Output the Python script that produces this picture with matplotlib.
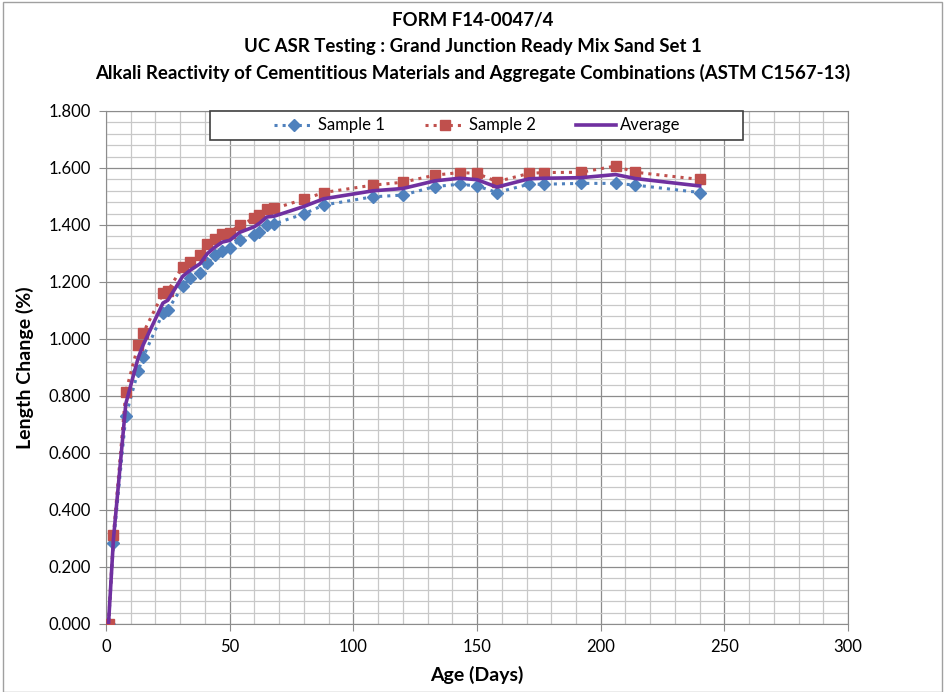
import matplotlib
matplotlib.use("Agg")
import matplotlib.pyplot as plt
from matplotlib.patches import Rectangle
from matplotlib.ticker import MultipleLocator, FormatStrFormatter
import numpy as np

# data
days = [1, 3, 8, 13, 15, 23, 25, 31, 34, 38, 41, 44, 47, 50, 54, 60, 62, 65, 68,
        80, 88, 108, 120, 133, 143, 150, 158, 171, 177, 192, 206, 214, 240]
sample1 = [0.000, 0.284, 0.730, 0.889, 0.936, 1.091, 1.102, 1.186, 1.213, 1.233, 1.266,
           1.293, 1.309, 1.319, 1.347, 1.365, 1.377, 1.400, 1.404, 1.439, 1.470, 1.499,
           1.505, 1.535, 1.543, 1.537, 1.514, 1.543, 1.543, 1.546, 1.546, 1.540, 1.514]
sample2 = [0.000, 0.312, 0.815, 0.979, 1.021, 1.160, 1.169, 1.254, 1.269, 1.295, 1.333,
           1.350, 1.370, 1.373, 1.400, 1.423, 1.435, 1.455, 1.458, 1.490, 1.514, 1.540,
           1.550, 1.575, 1.584, 1.581, 1.552, 1.581, 1.584, 1.585, 1.607, 1.585, 1.560]
average = [0.000, 0.298, 0.773, 0.934, 0.979, 1.126, 1.136, 1.220, 1.241, 1.264, 1.300,
           1.322, 1.340, 1.346, 1.374, 1.394, 1.406, 1.428, 1.431, 1.465, 1.492, 1.520,
           1.528, 1.555, 1.564, 1.559, 1.533, 1.562, 1.564, 1.566, 1.577, 1.563, 1.537]

titles = ["FORM F14-0047/4",
          "UC ASR Testing : Grand Junction Ready Mix Sand Set 1",
          "Alkali Reactivity of Cementitious Materials and Aggregate Combinations (ASTM C1567-13)"]

plt.rcParams['font.family'] = ['Lato', 'DejaVu Sans']

fig = plt.figure(figsize=(9.45, 6.92), dpi=100)
ax = fig.add_axes([0.1122, 0.0983, 0.7852, 0.7413])

# outer chart border
fig.patches.append(Rectangle((0.003, 0.0), 0.994, 0.997, transform=fig.transFigure,
                             fill=False, edgecolor='#a0a0a0', linewidth=1))

ax.plot(days, sample1, linestyle=':', color='#4F81BD', linewidth=2.2,
        marker='D', markersize=6.5, label='Sample 1', zorder=3)
ax.plot(days, sample2, linestyle=':', color='#C0504D', linewidth=2.2,
        marker='s', markersize=7, label='Sample 2', zorder=3)
ax.plot(days, average, linestyle='-', color='#7030A0', linewidth=2.6,
        label='Average', zorder=4)

ax.set_xlim(0, 300)
ax.set_ylim(0, 1.8)
ax.xaxis.set_major_locator(MultipleLocator(50))
ax.xaxis.set_minor_locator(MultipleLocator(10))
ax.yaxis.set_major_locator(MultipleLocator(0.2))
ax.yaxis.set_minor_locator(MultipleLocator(0.04))
ax.yaxis.set_major_formatter(FormatStrFormatter('%.3f'))
ax.grid(which='major', color='#8c8c8c', linewidth=0.9)
ax.grid(which='minor', color='#c8c8c8', linewidth=0.9)
ax.set_axisbelow(True)
ax.tick_params(which='major', direction='out', length=5, color='#8c8c8c',
               labelsize=12, pad=6)
ax.tick_params(which='minor', length=0)
for s in ax.spines.values():
    s.set_color('#8c8c8c')

ax.set_xlabel('Age (Days)', fontsize=14, fontweight='bold', labelpad=8)
ax.set_ylabel('Length Change (%)', fontsize=14, fontweight='bold', labelpad=10)

for i, t in enumerate(titles):
    fig.text(0.5, 0.970 - i * 0.0375, t, ha='center', va='center',
             fontsize=13.4, fontweight='bold')

# legend box drawn separately, entries spread like the original
ax.add_patch(Rectangle((0.140, 0.943), 0.718, 0.057, transform=ax.transAxes,
                       facecolor='white', edgecolor='#404040', linewidth=1.2,
                       zorder=5, clip_on=False))
leg = ax.legend(loc='center', bbox_to_anchor=(0.5, 0.972), ncol=3, fontsize=12,
                frameon=False, handlelength=2.4, handletextpad=0.25,
                columnspacing=2.4)
leg.set_zorder(6)

fig.savefig('out.png', dpi=100)
